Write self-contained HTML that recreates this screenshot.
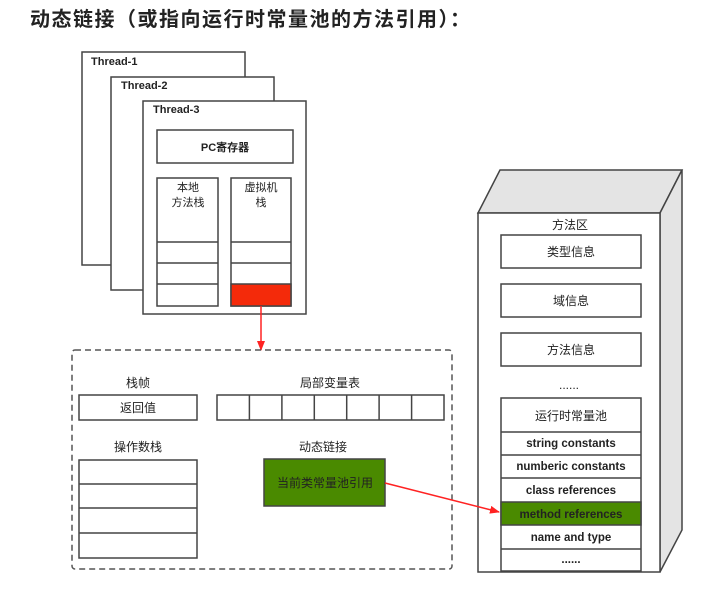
<!DOCTYPE html>
<html><head><meta charset="utf-8"><style>
body{margin:0;background:#fff;}
svg text{font-family:"Liberation Sans","Noto Sans CJK SC",sans-serif;fill:#222;}
</style></head><body>
<svg width="717" height="586" viewBox="0 0 717 586" xmlns="http://www.w3.org/2000/svg">
<defs><marker id="ar" markerWidth="10" markerHeight="10" refX="9" refY="5" orient="auto" markerUnits="userSpaceOnUse"><path d="M0,1 L10,5 L0,9 Z" fill="#f22"/></marker></defs>
<text x="30" y="26" font-size="20" font-weight="bold" fill="#333" letter-spacing="1.5">动态链接（或指向运行时常量池的方法引用）：</text>
<g stroke="#444" stroke-width="1.5" fill="#fff">
<rect x="82" y="52" width="163" height="213"/>
<rect x="111" y="77" width="163" height="213"/>
<rect x="143" y="101" width="163" height="213"/>
<rect x="157" y="130" width="136" height="33"/>
<rect x="157" y="178" width="61" height="128"/>
<rect x="231" y="178" width="60" height="128"/>
<line x1="157" y1="242" x2="218" y2="242"/><line x1="157" y1="263" x2="218" y2="263"/><line x1="157" y1="284" x2="218" y2="284"/>
<line x1="231" y1="242" x2="291" y2="242"/><line x1="231" y1="263" x2="291" y2="263"/>
<rect x="231" y="284" width="60" height="22" fill="#f42a0a"/>
</g>
<g font-size="11" font-weight="bold">
<text x="91" y="65">Thread-1</text><text x="121" y="89">Thread-2</text><text x="153" y="113">Thread-3</text>
<text x="225" y="151" text-anchor="middle">PC寄存器</text>
</g>
<g font-size="11" text-anchor="middle">
<text x="188" y="191">本地</text><text x="188" y="206">方法栈</text>
<text x="261" y="191">虚拟机</text><text x="261" y="206">栈</text>
</g>
<line x1="261" y1="306" x2="261" y2="350" stroke="#f22" stroke-width="1.5" marker-end="url(#ar)"/>
<rect x="72" y="350" width="380" height="219" rx="3" fill="none" stroke="#555" stroke-width="1.5" stroke-dasharray="6,4"/>
<g stroke="#444" stroke-width="1.5" fill="#fff">
<rect x="79" y="395" width="118" height="25"/>
<rect x="217" y="395" width="227" height="25"/>
<line x1="249.4" y1="395" x2="249.4" y2="420"/><line x1="281.9" y1="395" x2="281.9" y2="420"/><line x1="314.3" y1="395" x2="314.3" y2="420"/><line x1="346.7" y1="395" x2="346.7" y2="420"/><line x1="379.1" y1="395" x2="379.1" y2="420"/><line x1="411.6" y1="395" x2="411.6" y2="420"/>
<rect x="79" y="460" width="118" height="98"/>
<line x1="79" y1="484" x2="197" y2="484"/><line x1="79" y1="508" x2="197" y2="508"/><line x1="79" y1="533" x2="197" y2="533"/>
<rect x="264" y="459" width="121" height="47" fill="#4a8a00"/>
</g>
<g font-size="12" text-anchor="middle">
<text x="138" y="387">栈帧</text><text x="330" y="387">局部变量表</text>
<text x="138" y="412">返回值</text>
<text x="138" y="451">操作数栈</text><text x="323" y="451">动态链接</text>
<text x="325" y="487">当前类常量池引用</text>
</g>
<g stroke="#444" stroke-width="1.5">
<polygon points="478,213 500,170 682,170 660,213" fill="#e4e4e4"/>
<polygon points="660,213 682,170 682,530 660,572" fill="#e4e4e4"/>
<rect x="478" y="213" width="182" height="359" fill="#fff"/>
<g fill="#fff">
<rect x="501" y="235" width="140" height="33"/>
<rect x="501" y="284" width="140" height="33"/>
<rect x="501" y="333" width="140" height="33"/>
<rect x="501" y="398" width="140" height="173"/>
<line x1="501" y1="432" x2="641" y2="432"/><line x1="501" y1="455" x2="641" y2="455"/><line x1="501" y1="478" x2="641" y2="478"/>
<rect x="501" y="502" width="140" height="23" fill="#4a8a00"/>
<line x1="501" y1="549" x2="641" y2="549"/>
</g>
</g>
<line x1="385" y1="483" x2="499" y2="512" stroke="#f22" stroke-width="1.5" marker-end="url(#ar)"/>
<g font-size="12" text-anchor="middle">
<text x="570" y="229">方法区</text>
<text x="571" y="256">类型信息</text><text x="571" y="305">域信息</text><text x="571" y="354">方法信息</text>
<text x="569" y="389">......</text>
<text x="571" y="420">运行时常量池</text>
</g>
<g font-size="11.5" font-weight="bold" text-anchor="middle">
<text x="571" y="447">string constants</text>
<text x="571" y="470">numberic constants</text>
<text x="571" y="494">class references</text>
<text x="571" y="518">method references</text>
<text x="571" y="541">name and type</text>
<text x="571" y="563">......</text>
</g>
</svg>
</body></html>
